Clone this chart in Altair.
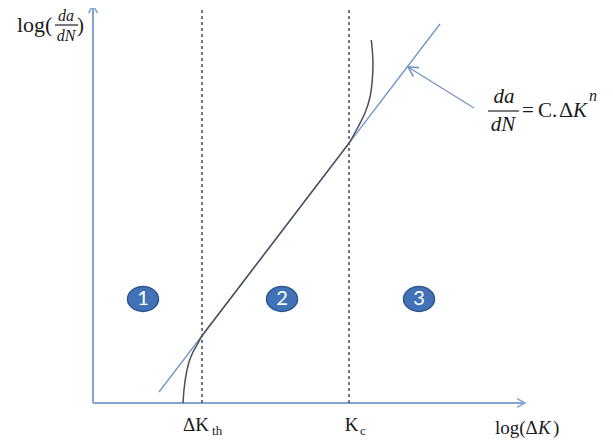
import altair as alt
import pandas as pd

# ---- schematic units: x = log(ΔK), y = log(da/dN) (arbitrary units) ----
X_DOMAIN = [-19.68, 118.52]
Y_DOMAIN = [-10.0, 98.75]

X_AXIS_END = 100.0
Y_AXIS_END = 99.5

THRESH_X = [25.23, 59.26]          # ΔK_th , K_c
THRESH_TOP = 99.5

PARIS_X = [15.28, 80.32]           # straight Paris-law line
PARIS_Y = [2.75, 94.75]

LOW_X = [20.83, 21.06, 21.53, 22.22, 23.15, 24.07, 25.23]
LOW_Y = [0.0, 3.25, 7.0, 10.25, 12.75, 14.5, 16.82]
MID_X = [25.23, 59.4]
MID_Y = [16.82, 65.15]
HIGH_X = [59.4, 61.34, 62.96, 64.12, 64.65, 64.81, 64.65, 64.42]
HIGH_Y = [65.15, 69.0, 72.5, 76.5, 80.75, 85.0, 88.25, 90.75]

ANNOT_X = [88.19, 72.92]
ANNOT_Y = [73.75, 84.0]

HEAD_X = [0.0, 100.0, 72.92]
HEAD_Y = [99.5, 0.0, 84.0]
HEAD_ANGLE = [0, 90, 302]
HEAD_SIZE = [256, 256, 380]
HEAD_COLOR = ["#86a3d4", "#86a3d4", "#7393c9"]

REGION_LABELS = ["1", "2", "3"]
REGION_X = [11.57, 43.75, 75.46]
REGION_Y = [26.0, 26.0, 26.0]

FRAC_X1 = [-8.8, 91.44]
FRAC_X2 = [-3.47, 98.61]
FRAC_Y = [94.5, 73.0]

# text pieces
UP_LEFT_TEXT = ["log(", ")", "th", "c", "log(Δ", ")", "C.", "Δ"]
UP_LEFT_X = [-17.6, -3.7, 27.55, 61.8, 93.06, 106.48, 103.01, 107.87]
UP_LEFT_Y = [92.75, 92.75, -8.0, -8.0, -7.75, -7.75, 71.5, 71.5]
UP_LEFT_SIZE = [22, 21, 13, 13, 19, 19, 21, 22]

UP_CENTER_TEXT = ["ΔK", "K", "="]
UP_CENTER_X = [23.84, 59.84, 100.69]
UP_CENTER_Y = [-7.0, -7.0, 71.5]
UP_CENTER_SIZE = [19, 19, 21]

IT_CENTER_TEXT = ["da", "dN", "da", "dN"]
IT_CENTER_X = [-6.25, -6.25, 95.14, 94.9]
IT_CENTER_Y = [95.5, 90.5, 75.0, 68.0]
IT_CENTER_SIZE = [16, 16, 21, 21]

IT_LEFT_TEXT = ["K", "K", "n"]
IT_LEFT_X = [103.01, 111.11, 114.81]
IT_LEFT_Y = [-7.75, 71.5, 75.5]
IT_LEFT_SIZE = [19, 21, 16]

SERIF = "Liberation Serif"

xs = alt.Scale(domain=X_DOMAIN, nice=False, zero=False)
ys = alt.Scale(domain=Y_DOMAIN, nice=False, zero=False)


def X(f="x"):
    return alt.X(f"{f}:Q", scale=xs, axis=None)


def Y(f="y"):
    return alt.Y(f"{f}:Q", scale=ys, axis=None)


axes_df = pd.DataFrame({"x": [0.0, 0.0], "y": [0.0, 0.0],
                        "x2": [X_AXIS_END, 0.0], "y2": [0.0, Y_AXIS_END]})
axes = alt.Chart(axes_df).mark_rule(color="#86a3d4", strokeWidth=2).encode(
    x=X(), y=Y(), x2="x2:Q", y2="y2:Q")

thr_df = pd.DataFrame({"x": THRESH_X, "y": [0.0, 0.0], "y2": [THRESH_TOP] * 2})
thresh = alt.Chart(thr_df).mark_rule(color="#555555", strokeWidth=1.6,
                                     strokeDash=[3, 3]).encode(
    x=X(), y=Y(), y2="y2:Q")

paris_df = pd.DataFrame({"x": PARIS_X, "y": PARIS_Y})
paris = alt.Chart(paris_df).mark_line(color="#6a95cf", strokeWidth=1.3).encode(
    x=X(), y=Y())

rows = []
for part, xx, yy in (("low", LOW_X, LOW_Y), ("mid", MID_X, MID_Y), ("high", HIGH_X, HIGH_Y)):
    for i, (a, b) in enumerate(zip(xx, yy)):
        rows.append({"part": part, "i": i, "x": a, "y": b})
curve_df = pd.DataFrame(rows)
curve = alt.Chart(curve_df).mark_line(color="#4a4f5a", strokeWidth=1.5,
                                      interpolate="catmull-rom").encode(
    x=X(), y=Y(), detail="part:N", order="i:Q")

annot_df = pd.DataFrame({"x": ANNOT_X, "y": ANNOT_Y})
annot = alt.Chart(annot_df).mark_line(color="#7393c9", strokeWidth=1.3).encode(
    x=X(), y=Y())

head_df = pd.DataFrame({"x": HEAD_X, "y": HEAD_Y, "angle": HEAD_ANGLE,
                        "size": HEAD_SIZE, "color": HEAD_COLOR})
heads = alt.Chart(head_df).mark_point(
    shape="M -0.55 1 L 0 0 L 0.55 1", filled=False, strokeWidth=1.6,
    opacity=1).encode(
    x=X(), y=Y(), angle=alt.Angle("angle:Q", scale=None),
    size=alt.Size("size:Q", scale=None, legend=None),
    stroke=alt.Stroke("color:N", scale=None))

frac_df = pd.DataFrame({"x": FRAC_X1, "x2": FRAC_X2, "y": FRAC_Y})
fracs = alt.Chart(frac_df).mark_rule(color="#222222", strokeWidth=1.2).encode(
    x=X(), x2="x2:Q", y=Y())

reg_df = pd.DataFrame({"x": REGION_X, "y": REGION_Y, "t": REGION_LABELS})
circles = alt.Chart(reg_df).mark_point(
    shape="M -1 0 A 1 0.8 0 1 1 1 0 A 1 0.8 0 1 1 -1 0 Z",
    filled=True, fill="#4272b6", stroke="#2e5590", strokeWidth=1.5,
    size=961, opacity=1).encode(x=X(), y=Y())
digits = alt.Chart(reg_df).mark_text(
    font="Lato", fontSize=20, color="white", align="center",
    baseline="middle", dy=0).encode(x=X(), y=Y(), text="t:N")


def text_layer(texts, xx, yy, sizes, align, style):
    df = pd.DataFrame({"x": xx, "y": yy, "t": texts, "s": sizes})
    return alt.Chart(df).mark_text(
        font=SERIF, fontStyle=style, align=align, baseline="alphabetic",
        color="#1a1a1a").encode(
        x=X(), y=Y(), text="t:N", size=alt.Size("s:Q", scale=None, legend=None))


t1 = text_layer(UP_LEFT_TEXT, UP_LEFT_X, UP_LEFT_Y, UP_LEFT_SIZE, "left", "normal")
t2 = text_layer(UP_CENTER_TEXT, UP_CENTER_X, UP_CENTER_Y, UP_CENTER_SIZE, "center", "normal")
t3 = text_layer(IT_CENTER_TEXT, IT_CENTER_X, IT_CENTER_Y, IT_CENTER_SIZE, "center", "italic")
t4 = text_layer(IT_LEFT_TEXT, IT_LEFT_X, IT_LEFT_Y, IT_LEFT_SIZE, "left", "italic")

chart = alt.layer(
    axes, thresh, paris, curve, annot, heads, fracs, circles, digits, t1, t2, t3, t4
).properties(
    width=597, height=435, padding=0, autosize=alt.AutoSizeParams(type="none"),
    background="white"
).configure_view(stroke=None)

chart.save("out.html", embed_options={"renderer": "svg", "actions": False})
